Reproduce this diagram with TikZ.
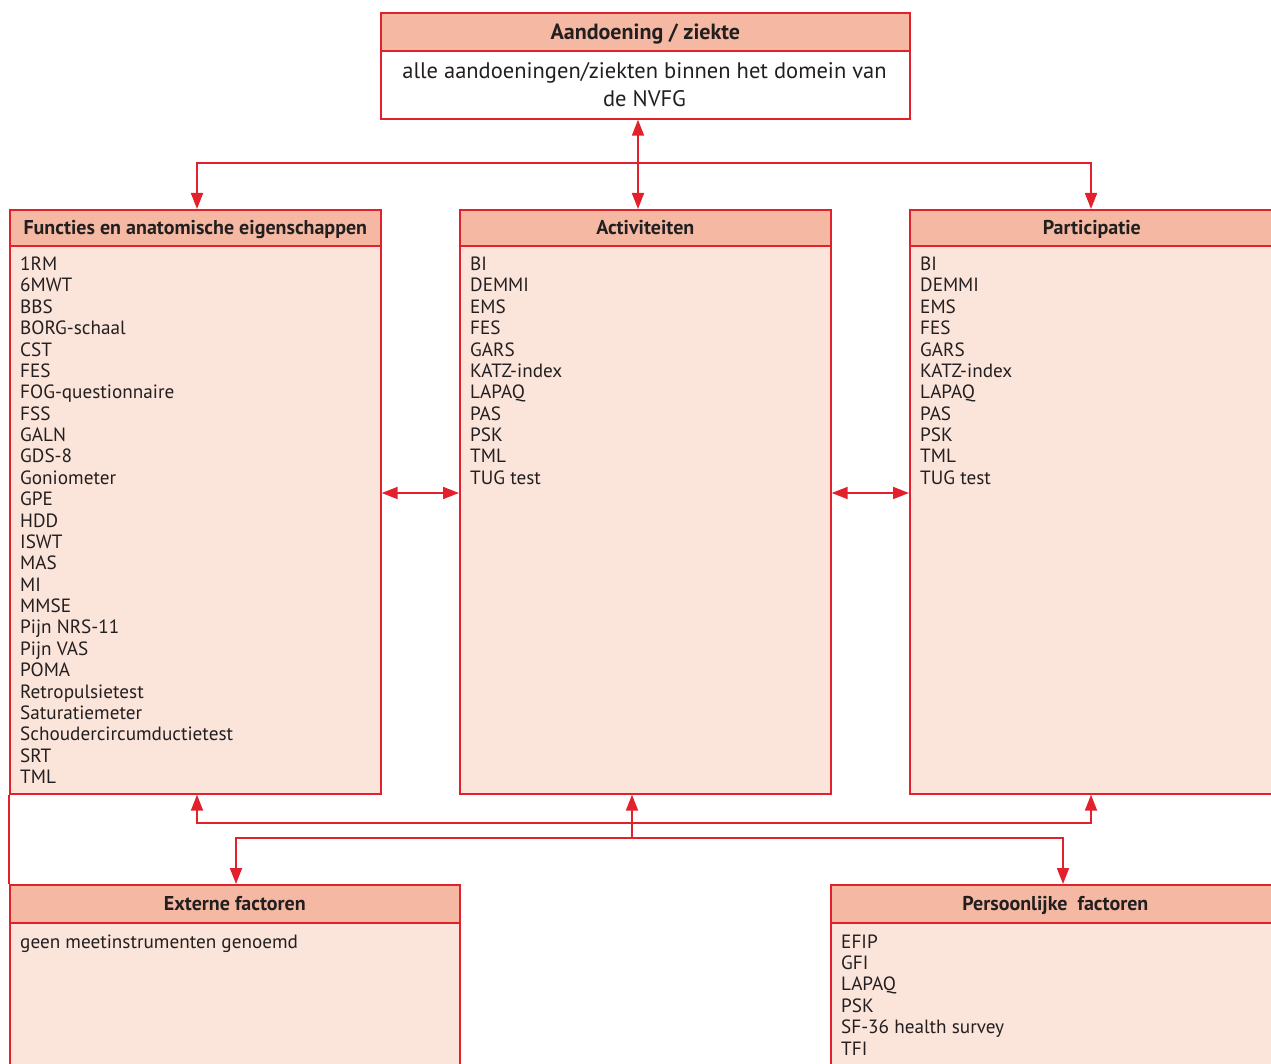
\documentclass[tikz,border=0pt]{standalone}
\usepackage{fontspec}
\setmainfont{PT Sans}
\usetikzlibrary{arrows.meta}
\definecolor{redline}{HTML}{E3212D}
\definecolor{hdrfill}{HTML}{F5B9A3}
\definecolor{bodyfill}{HTML}{FBE4DA}
\definecolor{txt}{HTML}{231F20}
\tikzset{
  boxline/.style={draw=redline, line width=1.7pt},
  hdr/.style={boxline, fill=hdrfill, anchor=north west, inner sep=0pt, text=txt,
    font=\fontsize{20}{24}\selectfont\bfseries, text height=13.5pt, text depth=0pt},
  bodybox/.style={boxline, fill=bodyfill, anchor=north west, inner sep=0pt},
  item/.style={anchor=base west, inner sep=0pt, text=txt, font=\fontsize{19.2}{21}\selectfont},
  topline/.style={anchor=base, inner sep=0pt, text=txt, font=\fontsize{22.5}{28}\selectfont},
  conn/.style={draw=redline, line width=1.8pt},
  arr/.style={conn, -{Triangle[length=16pt,width=12pt]}},
  dbl/.style={conn, {Triangle[length=16pt,width=12pt]}-{Triangle[length=16pt,width=12pt]}},
}
\begin{document}
\begin{tikzpicture}[x=1pt,y=-1pt]
\clip (0,0) rectangle (1271,1064);
\fill[white] (0,0) rectangle (1271,1064);

% top box
\node[hdr, minimum width=529pt, minimum height=38pt, font=\fontsize{22}{26}\selectfont\bfseries, text height=15pt] (Th) at (380,12) {Aandoening / ziekte};
\node[boxline, fill=white, anchor=north west, inner sep=0pt, minimum width=529pt, minimum height=68pt] (Tb) at (380,50) {};
\node[topline] (Tt1) at (644.5,79) {alle aandoeningen/ziekten binnen het domein van};
\node[topline] (Tt2) at (644.5,107) {de NVFG};

% three middle boxes
\node[bodybox, minimum width=371pt, minimum height=548pt] (Fb) at (9,245) {};
\node[hdr, minimum width=371pt, minimum height=36pt] (Fh) at (9,209) {Functies en anatomische eigenschappen};
\node[bodybox, minimum width=371pt, minimum height=548pt] (Ab) at (459,245) {};
\node[hdr, minimum width=371pt, minimum height=36pt] (Ah) at (459,209) {Activiteiten};
\node[bodybox, minimum width=364pt, minimum height=548pt] (Pb) at (909,245) {};
\node[hdr, minimum width=364pt, minimum height=36pt] (Ph) at (909,209) {Participatie};

% bottom boxes
\node[bodybox, minimum width=450pt, minimum height=150pt] (Eb) at (9,922) {};
\node[hdr, minimum width=450pt, minimum height=38pt] (Eh) at (9,884) {Externe factoren};
\node[bodybox, minimum width=449pt, minimum height=150pt] (PFb) at (830,922) {};
\node[hdr, minimum width=449pt, minimum height=38pt] (PFh) at (830,884) {Persoonlijke\ \ factoren};

% lists
\foreach \t [count=\i from 0] in {1RM,6MWT,BBS,BORG-schaal,CST,FES,FOG-questionnaire,FSS,GALN,GDS-8,Goniometer,GPE,HDD,ISWT,MAS,MI,MMSE,Pijn NRS-11,Pijn VAS,POMA,Retropulsietest,Saturatiemeter,Schoudercircumductietest,SRT,TML}
  \node[item] (F\i) at (20,270.5+21.375*\i) {\t};
\foreach \t [count=\i from 0] in {BI,DEMMI,EMS,FES,GARS,KATZ-index,LAPAQ,PAS,PSK,TML,TUG test}
  \node[item] (A\i) at (470,270.5+21.375*\i) {\t};
\foreach \t [count=\i from 0] in {BI,DEMMI,EMS,FES,GARS,KATZ-index,LAPAQ,PAS,PSK,TML,TUG test}
  \node[item] (P\i) at (920,270.5+21.375*\i) {\t};
\node[item] (E0) at (20,948) {geen meetinstrumenten genoemd};
\foreach \t [count=\i from 0] in {EFIP,GFI,LAPAQ,PSK,SF-36 health survey,TFI}
  \node[item] (PF\i) at (841,948+21.4*\i) {\t};

% helper coordinates
\coordinate (cF) at (197,0);
\coordinate (cT) at (638,0);
\coordinate (cA) at (632,0);
\coordinate (cP) at (1091,0);
\coordinate (cE) at (236,0);
\coordinate (cPF) at (1063,0);
\coordinate (rowTop) at (0,163);
\coordinate (rowMid) at (0,493);
\coordinate (rowB1) at (0,823);
\coordinate (rowB2) at (0,838);

% connectors
\draw[dbl] (Tb.south -| cT) -- (Ah.north -| cT);
\draw[arr] (rowTop -| cT) -| (Fh.north -| cF);
\draw[arr] (rowTop -| cT) -| (Ph.north -| cP);
\draw[dbl] (Fb.east |- rowMid) -- (Ab.west |- rowMid);
\draw[dbl] (Ab.east |- rowMid) -- (Pb.west |- rowMid);
\draw[arr] (rowB2 -| cA) -- (Ab.south -| cA);
\draw[arr] (rowB1 -| cA) -| (Fb.south -| cF);
\draw[arr] (rowB1 -| cA) -| (Pb.south -| cP);
\draw[arr] (rowB2 -| cA) -| (Eh.north -| cE);
\draw[arr] (rowB2 -| cA) -| (PFh.north -| cPF);
\draw[boxline] (Fb.south west) -- (Eh.north west);
\end{tikzpicture}
\end{document}
